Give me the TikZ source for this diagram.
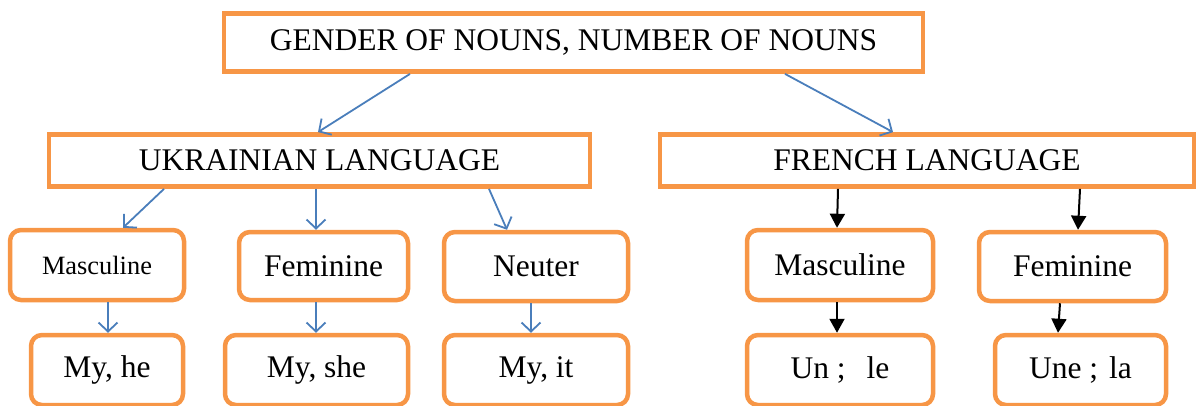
\documentclass[tikz,border=0pt]{standalone}
\usepackage{fontspec}
\setmainfont{Liberation Serif}
\usetikzlibrary{arrows.meta}
\definecolor{boxorange}{HTML}{F79646}
\definecolor{linkblue}{HTML}{4A7EBB}
\tikzset{
  headbox/.style={draw=boxorange, line width=4.8pt, fill=white, inner sep=0pt,
    font=\fontsize{31.5}{36}\selectfont},
  itembox/.style={headbox, rounded corners=11pt, line width=4.5pt},
  bluelink/.style={draw=linkblue, line width=1.8pt,
    -{Straight Barb[length=9pt,width=19pt,line width=1.8pt]}},
  blacklink/.style={draw=black, line width=2pt,
    -{Triangle[length=14pt,width=15pt]}}
}
\begin{document}
\begin{tikzpicture}[x=1pt,y=-1pt]
\useasboundingbox (0,0) rectangle (1197,405);

% title
\node[headbox, minimum width=699pt, minimum height=58pt] (top) at (573.5,42.5)
  {GENDER OF NOUNS, NUMBER OF NOUNS};

% languages
\node[headbox, minimum width=541pt, minimum height=52pt] (ukr) at (319.5,160.5)
  {UKRAINIAN LANGUAGE};
\node[headbox, minimum width=534pt, minimum height=52pt] (fr) at (927,160.5)
  {FRENCH LANGUAGE};

% genders
\node[itembox, minimum width=174pt, minimum height=70pt,
  font=\fontsize{26.4}{30}\selectfont] (um) at (97,265) {Masculine};
\node[itembox, minimum width=169pt, minimum height=68pt] (uf) at (323.5,266) {Feminine};
\node[itembox, minimum width=184pt, minimum height=69pt] (un) at (536,266.5) {Neuter};
\node[itembox, minimum width=186pt, minimum height=70pt] (fm) at (840,265) {Masculine};
\node[itembox, minimum width=187pt, minimum height=69pt] (ff) at (1072.5,266.5) {Feminine};

% examples (their lower edges run along the bottom border)
\node[itembox, minimum width=152pt, minimum height=70pt] (umy) at (107,370) {My, he\hspace{14pt}};
\node[itembox, minimum width=183pt, minimum height=70pt] (ufy) at (316.5,370) {My, she};
\node[itembox, minimum width=184pt, minimum height=70pt] (uny) at (536,370) {My, it};
\node[itembox, minimum width=186pt, minimum height=70pt] (fmy) at (840,370) {Un ;\hspace{21pt}le};
\node[itembox, minimum width=171pt, minimum height=70pt] (ffy) at (1080.5,370) {Une ;\hspace{11pt}la};

% connectors
\draw[bluelink] ([xshift=-163.5pt]top.south) -- ([xshift=-1.5pt]ukr.north);
\draw[bluelink] ([xshift=211.5pt]top.south) -- ([xshift=-34pt]fr.north);

\draw[bluelink] ([xshift=-155.5pt]ukr.south) -- ([xshift=26pt]um.north);
\draw[bluelink] ([xshift=-3.5pt]ukr.south) -- ([xshift=-7.5pt]uf.north);
\draw[bluelink] ([xshift=169.5pt]ukr.south) -- ([xshift=-29pt]un.north);

\draw[bluelink] ([xshift=11pt]um.south) -- ([xshift=1pt]umy.north);
\draw[bluelink] ([xshift=-7.5pt]uf.south) -- ([xshift=-0.5pt]ufy.north);
\draw[bluelink] ([xshift=-5pt]un.south) -- ([xshift=-5pt]uny.north);

\draw[blacklink] ([xshift=-89pt]fr.south) -- ([xshift=-3pt]fm.north);
\draw[blacklink] ([xshift=153pt]fr.south) -- ([xshift=5.5pt]ff.north);
\draw[blacklink] ([xshift=-3pt]fm.south) -- ([xshift=-3pt]fmy.north);
\draw[blacklink] ([xshift=-12.5pt]ff.south) -- ([xshift=-22.5pt]ffy.north);
\end{tikzpicture}
\end{document}
